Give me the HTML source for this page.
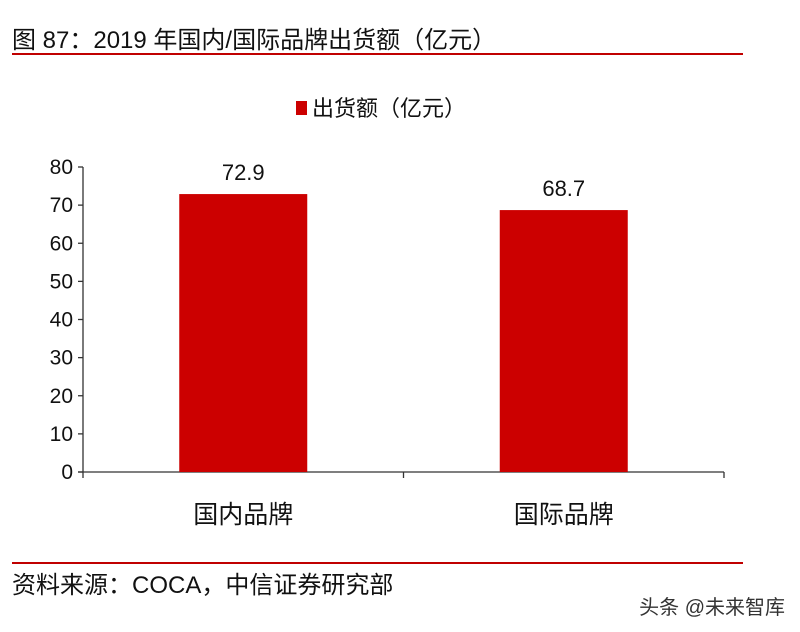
<!DOCTYPE html>
<html><head><meta charset="utf-8">
<style>
body{margin:0;background:#fff;width:800px;height:632px;overflow:hidden;font-family:"Liberation Sans","Noto Sans CJK SC",sans-serif;}
svg{position:absolute;left:0;top:0}
text{font-family:"Liberation Sans","Noto Sans CJK SC",sans-serif;}
</style></head>
<body>
<svg id="c" width="800" height="632">
<text x="12" y="48" font-size="24" fill="#111">图 87：2019 年国内/国际品牌出货额（亿元）</text>
<line x1="12" y1="54" x2="743" y2="54" stroke="#c00000" stroke-width="2"/>
<rect x="296" y="101" width="11" height="14" fill="#cc0000"/>
<text x="312" y="116" font-size="22" fill="#111">出货额（亿元）</text>
<line x1="12" y1="563" x2="743" y2="563" stroke="#c00000" stroke-width="2"/>
<text x="12" y="593" font-size="24" fill="#111">资料来源：COCA，中信证券研究部</text>
<text x="785" y="614" text-anchor="end" font-size="20" fill="#333">头条 @未来智库</text>
<g id="plot"></g>
</svg>
<script>
const categories=["国内品牌","国际品牌"];
const values=[72.9,68.7];
const labels=["72.9","68.7"];
const ticks=[0,10,20,30,40,50,60,70,80];
const NS="http://www.w3.org/2000/svg";
const g=document.getElementById('plot');
const x0=83,x1=724,y0=472,yTop=167,ymax=80;
const y=v=>y0-(v/ymax)*(y0-yTop);
const band=(x1-x0)/categories.length;
function mk(t,a){const e=document.createElementNS(NS,t);for(const k in a)e.setAttribute(k,a[k]);g.appendChild(e);return e;}
let e=mk('line',{x1:x0,y1:yTop,x2:x0,y2:y0,stroke:'#333','stroke-width':1.3});


ticks.forEach(t=>{
 const l=mk('line',{x1:x0-5,y1:y(t),x2:x0,y2:y(t),stroke:'#333','stroke-width':1.3});
 
 
 const tx=mk('text',{x:x0-10,y:y(t)+7,'text-anchor':'end','font-size':21,fill:'#111'});
 tx.textContent=t;
 
 
});
e=mk('line',{x1:x0-5,y1:y0,x2:x1,y2:y0,stroke:'#333','stroke-width':1.3});


for(let i=0;i<=categories.length;i++){
 const l=mk('line',{x1:x0+i*band,y1:y0,x2:x0+i*band,y2:y0+6,stroke:'#333','stroke-width':1.3});
 
 
}
categories.forEach((c,i)=>{
 const cx=x0+band*(i+0.5),bw=128;
 const r=mk('rect',{x:cx-bw/2,y:y(values[i]),width:bw,height:y0-y(values[i]),fill:'#cc0000'});
 
 
 const v=mk('text',{x:cx,y:y(values[i])-14,'text-anchor':'middle','font-size':22,fill:'#111'});
 v.textContent=labels[i];
 
 
 const t=mk('text',{x:cx,y:523,'text-anchor':'middle','font-size':25,fill:'#111'});
 t.textContent=c;
 
 
});
</script>
</body></html>
